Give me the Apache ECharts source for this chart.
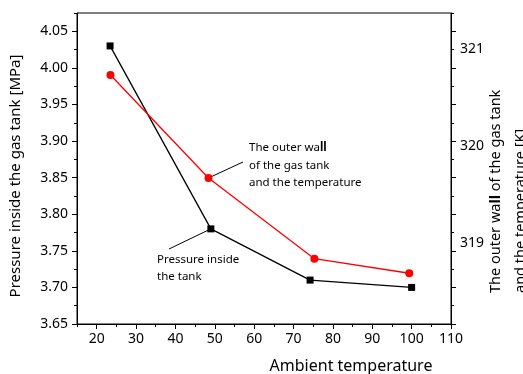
<!DOCTYPE html>
<html>
<head>
<meta charset="utf-8">
<script src="https://cdn.jsdelivr.net/npm/echarts@6/dist/echarts.min.js"></script>
<style>
    html,body{margin:0;padding:0;background:#fff;}
    #chart{width:523px;height:374px;}
</style>
</head>
<body>
<div id="chart"></div>
<script>
    // pressure inside the tank (left axis, MPa)
    const pressureX = [23.4, 49.0, 74.2, 100.0]
    const pressure = [4.03, 3.78, 3.71, 3.70]
    // outer wall temperature (right axis, K)
    const wallX = [23.5, 48.4, 75.3, 99.4]
    const wallTemp = [320.73, 319.67, 318.84, 318.69]

    const xTicks = [20, 30, 40, 50, 60, 70, 80, 90, 100, 110]
    const xMinor = [15, 25, 35, 45, 55, 65, 75, 85, 95, 105]
    const yTicks = [3.65, 3.70, 3.75, 3.80, 3.85, 3.90, 3.95, 4.00, 4.05]
    const yMinor = [3.675, 3.725, 3.775, 3.825, 3.875, 3.925, 3.975, 4.025, 4.075]
    const rightTicks = [319, 320, 321]

    const FONT = 'Noto Sans'
    const black = '#000'

    function tickAxis(pos, min, max, vals, len, line){
        return {
            type:'value', position:pos, min:min, max:max,
            axisLine:{show:line, lineStyle:{color:black, width:1}},
            axisTick:{show:true, customValues:vals, length:len, lineStyle:{color:black, width:1}},
            axisLabel:{show:false},
            splitLine:{show:false}
        }
    }

    const mychart = echarts.init(document.getElementById('chart'))
    mychart.setOption({
        animation:false,
        grid:{left:77, right:72, top:13, bottom:50, show:true, borderColor:black, borderWidth:1},
        xAxis:[
            {
                type:'value', position:'bottom', min:15, max:110,
                axisLine:{show:true, lineStyle:{color:black, width:1}},
                axisTick:{show:true, customValues:xTicks, length:5, lineStyle:{color:black}},
                axisLabel:{customValues:xTicks, color:black, fontSize:14, fontFamily:FONT, margin:8},
                splitLine:{show:false}
            },
            tickAxis('bottom', 15, 110, xMinor, 3, false)
        ],
        yAxis:[
            {
                type:'value', position:'left', min:3.65, max:4.075,
                axisLine:{show:true, lineStyle:{color:black, width:1}},
                axisTick:{show:true, customValues:yTicks, length:5, lineStyle:{color:black}},
                axisLabel:{customValues:yTicks, color:black, fontSize:14, fontFamily:FONT, margin:9,
                    formatter:v=>v.toFixed(2)},
                splitLine:{show:false}
            },
            tickAxis('left', 3.65, 4.075, yMinor, 3, false),
            {
                type:'value', position:'right', min:318.168, max:321.367,
                axisLine:{show:true, lineStyle:{color:black, width:1}},
                axisTick:{show:false},
                axisLabel:{customValues:rightTicks, color:black, fontSize:14, fontFamily:FONT, margin:9},
                splitLine:{show:false}
            },
            // mirrored ticks on the right side
            tickAxis('right', 3.65, 4.075, yTicks, 5, false),
            tickAxis('right', 3.65, 4.075, yMinor, 3, false)
        ],
        series:[
            {
                name:'Pressure inside the tank', type:'line', xAxisIndex:0, yAxisIndex:0,
                data:pressureX.map((x,i)=>[x, pressure[i]]),
                symbol:'rect', symbolSize:7,
                itemStyle:{color:black},
                lineStyle:{color:black, width:1.3}
            },
            {
                name:'The outer wall of the gas tank and the temperature', type:'line', xAxisIndex:0, yAxisIndex:2,
                data:wallX.map((x,i)=>[x, wallTemp[i]]),
                symbol:'circle', symbolSize:8,
                itemStyle:{color:'#ff0000'},
                lineStyle:{color:'#ff0000', width:1.3}
            }
        ]
    })

    // callouts start at the data points
    const pP = mychart.convertToPixel({seriesIndex:0}, [pressureX[1], pressure[1]])
    const pW = mychart.convertToPixel({seriesIndex:1}, [wallX[1], wallTemp[1]])

    mychart.setOption({
        graphic:[
            {type:'line', shape:{x1:pW[0], y1:pW[1], x2:243, y2:162}, style:{stroke:black, lineWidth:1}, z:1},
            {type:'line', shape:{x1:pP[0], y1:pP[1], x2:169, y2:249}, style:{stroke:black, lineWidth:1}, z:1},
            {
                type:'text', x:249, y:139,
                style:{text:'The outer wa{b|ll}\nof the gas tank\nand the temperature',
                    font:'11.5px "Noto Sans"', fill:black, lineHeight:17.5, align:'left', verticalAlign:'top',
                    rich:{b:{fontWeight:'bold', fontSize:11.5, fontFamily:FONT, lineHeight:17.5}}}
            },
            {
                type:'text', x:157, y:251,
                style:{text:'Pressure inside\nthe tank', font:'11.5px "Noto Sans"', fill:black,
                    lineHeight:17, align:'left', verticalAlign:'top'}
            },
            {
                type:'text', x:16, y:176, rotation:Math.PI/2,
                style:{text:'Pressure inside the gas tank [MPa]', font:'15px "Noto Sans"', fill:black,
                    align:'center', verticalAlign:'middle'}
            },
            {
                type:'text', x:483, y:293, rotation:Math.PI/2,
                style:{text:'The outer wa{b|ll} of the gas tank\nand the temperature [K]',
                    font:'14.5px "Noto Sans"', fill:black, lineHeight:25, align:'left', verticalAlign:'top',
                    rich:{b:{fontWeight:'bold', fontSize:14.5, fontFamily:FONT, lineHeight:25}}}
            },
            {
                type:'text', x:351, y:366,
                style:{text:'Ambient temperature', font:'16px "Noto Sans"', fill:black,
                    align:'center', verticalAlign:'middle'}
            }
        ]
    })
</script>
</body>
</html>
